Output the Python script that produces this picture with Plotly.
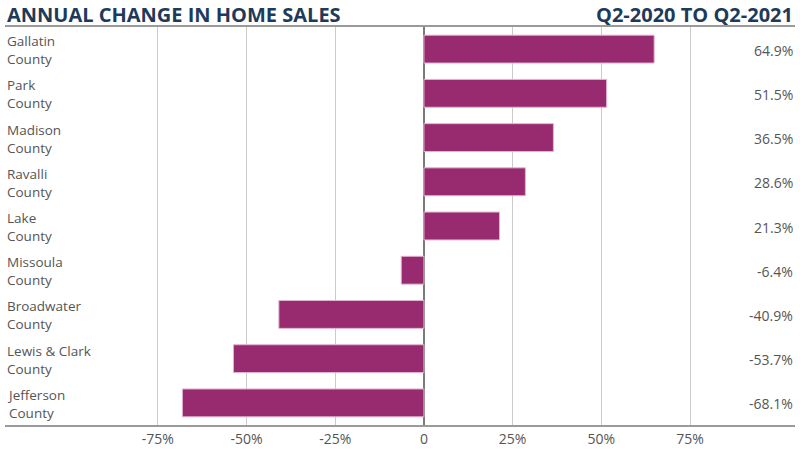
import plotly.graph_objects as go

counties = ["Gallatin", "Park", "Madison", "Ravalli", "Lake", "Missoula",
            "Broadwater", "Lewis & Clark", "Jefferson"]
changes = [64.9, 51.5, 36.5, 28.6, 21.3, -6.4, -40.9, -53.7, -68.1]
value_labels = ["64.9%", "51.5%", "36.5%", "28.6%", "21.3%", "-6.4%",
                "-40.9%", "-53.7%", "-68.1%"]
tick_vals = [-75, -50, -25, 0, 25, 50, 75]
tick_text = ["-75%", "-50%", "-25%", "0", "25%", "50%", "75%"]

BAR = "#982B6F"
TXT = "#555555"
NAVY = "#1E3A5A"
FONT = "Open Sans"

fig = go.Figure(go.Bar(
    y=counties, x=changes, orientation="h", width=0.63,
    marker=dict(color=BAR, line=dict(color="#E2B4CF", width=1)),
    hoverinfo="skip",
))

ann = []
for c, v in zip(counties, value_labels):
    ann.append(dict(x=0, xref="paper", y=c, yref="y", text=c + "<br>County", showarrow=False,
                    xanchor="left", yanchor="middle", align="left", yshift=-1,
                    font=dict(family=FONT, size=13.5, color=TXT)))
    ann.append(dict(x=1, xref="paper", y=c, yref="y", text=v, showarrow=False,
                    xanchor="right", yanchor="middle", yshift=-1,
                    font=dict(family=FONT, size=14, color=TXT)))

ann.append(dict(x=0, xref="paper", y=1, yref="paper", yshift=13, text="ANNUAL CHANGE IN HOME SALES",
                showarrow=False, xanchor="left", yanchor="middle",
                font=dict(family=FONT, size=20, color=NAVY, weight=700)))
ann.append(dict(x=1, xref="paper", y=1, yref="paper", yshift=13, text="Q2-2020 TO Q2-2021",
                showarrow=False, xanchor="right", yanchor="middle",
                font=dict(family=FONT, size=20, color=NAVY, weight=700)))

fig.update_layout(
    width=800, height=464,
    margin=dict(l=5, r=5, t=27, b=39),
    paper_bgcolor="white", plot_bgcolor="white",
    showlegend=False,
    annotations=ann,
    xaxis=dict(range=[-118.1, 104.6], tickvals=tick_vals, ticktext=tick_text,
               showgrid=True, gridcolor="#CACACA", gridwidth=1,
               zeroline=True, zerolinecolor="#7A7A7A", zerolinewidth=2,
               showline=True, mirror=True, linecolor="#9A9A9A", linewidth=2,
               tickfont=dict(family=FONT, size=14, color=TXT), fixedrange=True),
    yaxis=dict(autorange="reversed", showticklabels=False, showgrid=False,
               zeroline=False, range=[8.5, -0.5], fixedrange=True),
)

fig.write_html("out.html", post_script="document.body.style.margin='0';",
               config={"displayModeBar": False})
